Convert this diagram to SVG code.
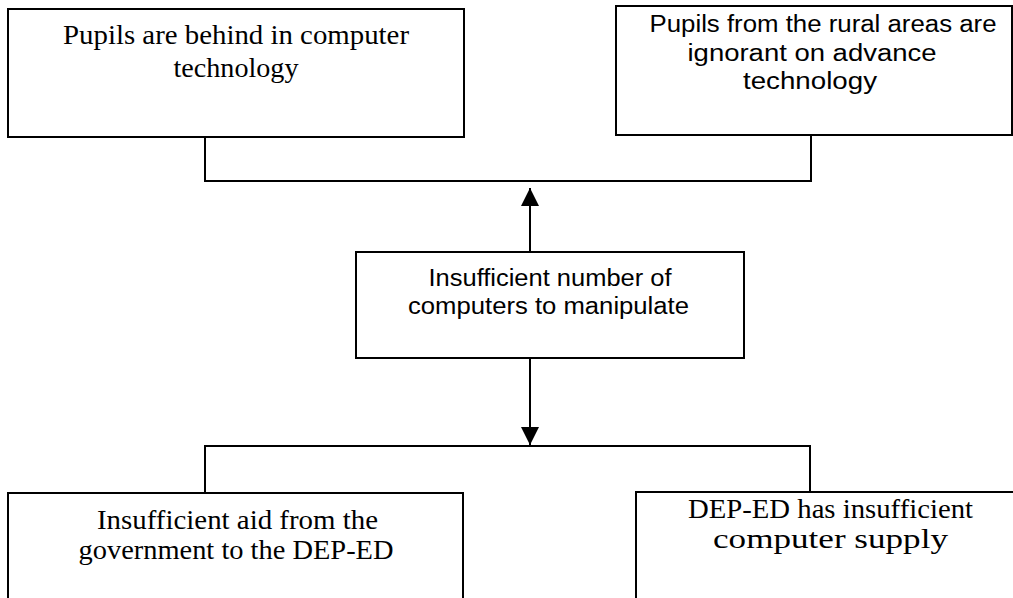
<svg xmlns="http://www.w3.org/2000/svg" width="1013" height="598" viewBox="0 0 1013 598">
<style>
  .box { fill: #fff; stroke: #000; stroke-width: 2; }
  .con { fill: none; stroke: #000; stroke-width: 2; }
  .serif { font-family: "Liberation Serif", "Times New Roman", serif; font-size: 27px; fill: #000; text-anchor: middle; }
  .sans { font-family: "Liberation Sans", Arial, sans-serif; font-size: 23px; fill: #000; text-anchor: middle; }
</style>
<defs>
  <marker id="arrow" viewBox="0 0 18 18" refX="18" refY="9" markerWidth="18" markerHeight="18" markerUnits="userSpaceOnUse" orient="auto">
    <path d="M0,0 L18,9 L0,18 Z" fill="#000"/>
  </marker>
</defs>
<rect width="1013" height="598" fill="#fff"/>
<g id="connectors">
  <polyline class="con" points="205,137 205,181 811,181 811,135"/>
  <line class="con" x1="530" y1="252" x2="530" y2="188" marker-end="url(#arrow)"/>
  <line class="con" x1="530" y1="358" x2="530" y2="445" marker-end="url(#arrow)"/>
  <polyline class="con" points="205,493 205,446 810,446 810,493"/>
</g>
<g id="node-behind">
  <rect class="box" x="8" y="9" width="456" height="128"/>
  <text class="serif" x="236" y="44" textLength="346" lengthAdjust="spacingAndGlyphs">Pupils are behind in computer</text>
  <text class="serif" x="236" y="77" textLength="125" lengthAdjust="spacingAndGlyphs">technology</text>
</g>
<g id="node-rural">
  <rect class="box" x="616" y="6" width="396" height="129"/>
  <text class="sans" x="823" y="32" textLength="347" lengthAdjust="spacingAndGlyphs">Pupils from the rural areas are</text>
  <text class="sans" x="812" y="61" textLength="249" lengthAdjust="spacingAndGlyphs">ignorant on advance</text>
  <text class="sans" x="810" y="89" textLength="134" lengthAdjust="spacingAndGlyphs">technology</text>
</g>
<g id="node-center">
  <rect class="box" x="356" y="252" width="388" height="106"/>
  <text class="sans" x="550" y="286" textLength="243" lengthAdjust="spacingAndGlyphs">Insufficient number of</text>
  <text class="sans" x="548.5" y="314" textLength="281" lengthAdjust="spacingAndGlyphs">computers to manipulate</text>
</g>
<g id="node-aid">
  <rect class="box" x="8" y="493" width="455" height="120"/>
  <text class="serif" x="237.5" y="529" textLength="281" lengthAdjust="spacingAndGlyphs">Insufficient aid from the</text>
  <text class="serif" x="236" y="559" textLength="315" lengthAdjust="spacingAndGlyphs">government to the DEP-ED</text>
</g>
<g id="node-supply">
  <rect class="box" x="636" y="492" width="390" height="120"/>
  <text class="serif" x="830.5" y="518" textLength="285" lengthAdjust="spacingAndGlyphs">DEP-ED has insufficient</text>
  <text class="serif" x="830.5" y="548" textLength="235" lengthAdjust="spacingAndGlyphs">computer supply</text>
</g>
</svg>
